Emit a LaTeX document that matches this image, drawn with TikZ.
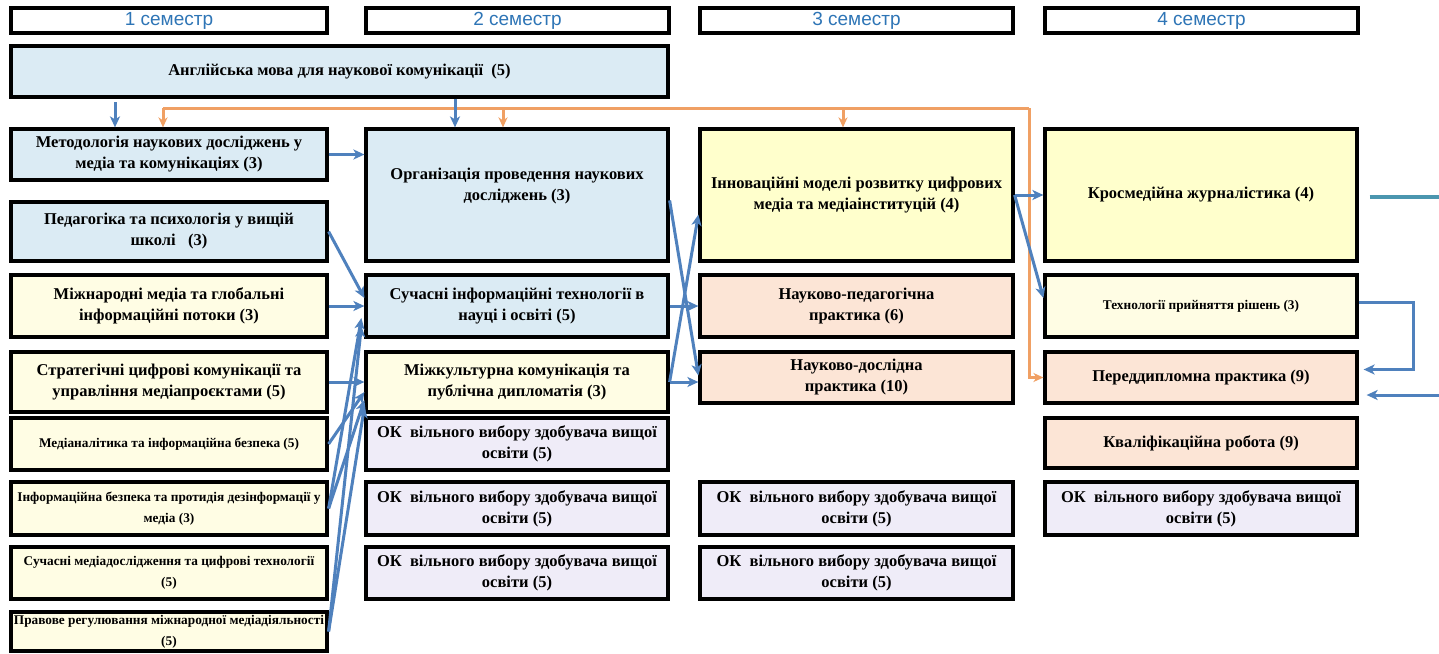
\documentclass[tikz,border=0pt]{standalone}
\usepackage{fontspec}
\setmainfont{Liberation Serif}
\newfontfamily\hdrfont{Liberation Sans}
\usetikzlibrary{arrows.meta,calc}
\definecolor{bfill}{RGB}{219,235,244}
\definecolor{yfill}{RGB}{255,255,204}
\definecolor{lyfill}{RGB}{255,253,228}
\definecolor{pfill}{RGB}{252,229,214}
\definecolor{vfill}{RGB}{239,236,248}
\definecolor{hblue}{RGB}{46,117,182}
\definecolor{ablue}{RGB}{79,129,189}
\definecolor{aorange}{RGB}{240,160,100}
\definecolor{ateal}{RGB}{75,150,175}
\tikzset{
 box/.style={draw=black, line width=3.2pt, rectangle, inner sep=1pt, align=center, font=\bfseries\fontsize{16.5}{21}\selectfont},
 sbox/.style={box, font=\bfseries\fontsize{13.3}{21}\selectfont},
 hdr/.style={draw=black, line width=3.2pt, rectangle, fill=white, inner sep=1pt, font=\hdrfont\fontsize{19}{20}\selectfont, text=hblue},
 barr/.style={draw=ablue, line width=3pt, -{Stealth[length=11pt,width=10pt,inset=3pt]}},
 oarr/.style={draw=aorange, line width=3pt, -{Stealth[length=10pt,width=9pt,inset=3pt]}},
 oline/.style={draw=aorange, line width=3pt},
 tline/.style={draw=ateal, line width=3.5pt}
}
\newcommand\cbx[7]{\node[#1, minimum width={(#5)-(#3)}, minimum height={(#6)-(#4)}] (#2) at ({((#3)+(#5))/2},{((#4)+(#6))/2}) {#7};}
\begin{document}
\begin{tikzpicture}[x=1pt,y=-1pt]
\useasboundingbox[fill=white] (0,0) rectangle (1439,653);
% headers
\cbx{hdr}{h1}{11}{8}{327}{33}{1 семестр}
\cbx{hdr}{h2}{366}{8}{669}{33}{2 семестр}
\cbx{hdr}{h3}{700}{8}{1013}{33}{3 семестр}
\cbx{hdr}{h4}{1045}{8}{1358}{33}{4 семестр}
% top
\cbx{box,fill=bfill}{eng}{11}{46}{668}{97}{Англійська мова для наукової комунікації~~(5)}
% column 1
\cbx{box,fill=bfill}{m1}{11}{129}{327}{180}{Методологія наукових досліджень у\\медіа та комунікаціях (3)}
\cbx{box,fill=bfill}{m2}{11}{202}{327}{261}{Педагогіка та психологія у вищій\\школі~~~(3)}
\cbx{box,fill=lyfill}{m3}{11}{275}{327}{337}{Міжнародні медіа та глобальні\\інформаційні потоки (3)}
\cbx{box,fill=lyfill}{m4}{11}{352}{327}{412}{Стратегічні цифрові комунікації та\\управління медіапроєктами (5)}
\cbx{sbox,fill=lyfill}{m5}{11}{418}{327}{470}{Медіаналітика та інформаційна безпека (5)}
\cbx{sbox,fill=lyfill}{m6}{11}{482}{327}{535}{Інформаційна безпека та протидія дезінформації у\\медіа (3)}
\cbx{sbox,fill=lyfill}{m7}{11}{547}{327}{599}{Сучасні медіадослідження та цифрові технології\\(5)}
\cbx{sbox,fill=lyfill}{m8}{11}{612}{327}{651}{Правове регулювання міжнародної медіадіяльності\\(5)}
% column 2
\cbx{box,fill=bfill}{o1}{366}{129}{668}{261}{Організація проведення наукових\\досліджень (3)\\\mbox{}}
\cbx{box,fill=bfill}{o2}{366}{275}{668}{337}{Сучасні інформаційні технології в\\науці і освіті (5)}
\cbx{box,fill=lyfill}{o3}{366}{352}{668}{412}{Міжкультурна комунікація та\\публічна дипломатія (3)}
\cbx{box,fill=vfill}{ok1}{366}{418}{668}{470}{ОК~~вільного вибору здобувача вищої\\освіти (5)}
\cbx{box,fill=vfill}{ok2}{366}{482}{668}{535}{ОК~~вільного вибору здобувача вищої\\освіти (5)}
\cbx{box,fill=vfill}{ok3}{366}{547}{668}{599}{ОК~~вільного вибору здобувача вищої\\освіти (5)}
% column 3
\cbx{box,fill=yfill}{i1}{700}{129}{1013}{261}{Інноваційні моделі розвитку цифрових\\медіа та медіаінституцій (4)}
\cbx{box,fill=pfill}{i2}{700}{275}{1013}{337}{Науково-педагогічна\\практика (6)}
\cbx{box,fill=pfill}{i3}{700}{352}{1013}{403}{Науково-дослідна\\практика (10)}
\cbx{box,fill=vfill}{ok4}{700}{482}{1013}{535}{ОК~~вільного вибору здобувача вищої\\освіти (5)}
\cbx{box,fill=vfill}{ok5}{700}{547}{1013}{599}{ОК~~вільного вибору здобувача вищої\\освіти (5)}
% column 4
\cbx{box,fill=yfill}{k1}{1045}{129}{1357}{261}{Кросмедійна журналістика (4)}
\cbx{sbox,fill=lyfill}{k2}{1045}{275}{1357}{337}{Технології прийняття рішень (3)}
\cbx{box,fill=pfill}{k3}{1045}{352}{1357}{403}{Переддипломна практика (9)}
\cbx{box,fill=pfill}{k4}{1045}{418}{1357}{468}{Кваліфікаційна робота (9)}
\cbx{box,fill=vfill}{ok6}{1045}{482}{1357}{535}{ОК~~вільного вибору здобувача вищої\\освіти (5)}
% orange connectors
\coordinate (oL) at (163,108);
\coordinate (oR) at (1029,108);
\coordinate (oB) at (503,108);
\coordinate (oC) at (843,108);
\draw[oline] (oL) -- (oR);
\draw[oarr] (oR) |- (k3.west);
\draw[oarr] (oL) -- (oL |- m1.north);
\draw[oarr] (oB) -- (oB |- o1.north);
\draw[oarr] (oC) -- (oC |- i1.north);
% blue connectors
\coordinate (eA) at (115,102);
\coordinate (xE) at (455,0);
\draw[barr] (eA) -- (eA |- m1.north);
\draw[barr] (eng.south -| xE) -- (o1.north -| xE);
\draw[barr] (m1.east) -- (m1.east -| o1.west);
\draw[barr] (m2.east) -- ($(o2.west)+(0,-8)$);
\draw[barr] (m3.east) -- (m3.east -| o2.west);
\draw[barr] (m4.east) -- (m4.east -| o3.west);
\draw[barr] (m5.east) -- ($(o3.west)+(0,10)$);
\draw[barr] (m6.east) -- ($(o3.west)+(0,18)$);
\draw[barr] (m6.east) -- ($(o2.west)+(-3,12)$);
\draw[barr] (m8.east) -- ($(o3.west)+(0,25)$);
\draw[barr] (m8.east) -- ($(o2.west)+(-3,20)$);
\coordinate (o1r) at ($(o1.north east)+(0,73)$);
\draw[barr] (o1r) -- ($(i3.west)+(0,-2)$);
\draw[barr] (o2.east) -- (o2.east -| i2.west);
\draw[barr] (o3.east) -- ($(i1.south west)+(0,-48)$);
\draw[barr] (o3.east) -- (o3.east -| i3.west);
\draw[barr] (i1.east) -- (i1.east -| k1.west);
\draw[barr] (i1.east) -- ($(k2.west)+(0,-8)$);
% right side
\coordinate (k1o) at ($(k1.east)+(11,2)$);
\coordinate (rE1) at (1439,197);
\draw[tline] (k1o) -- (rE1);
\coordinate (br) at (1413,302);
\draw[barr] (k2.east |- br) -- (br) |- ($(k3.east)+(5,-8)$);
\coordinate (rE2) at (1439,395);
\draw[barr] (rE2) -- ($(rE2 -| k3.east)+(8,0)$);
\end{tikzpicture}
\end{document}
